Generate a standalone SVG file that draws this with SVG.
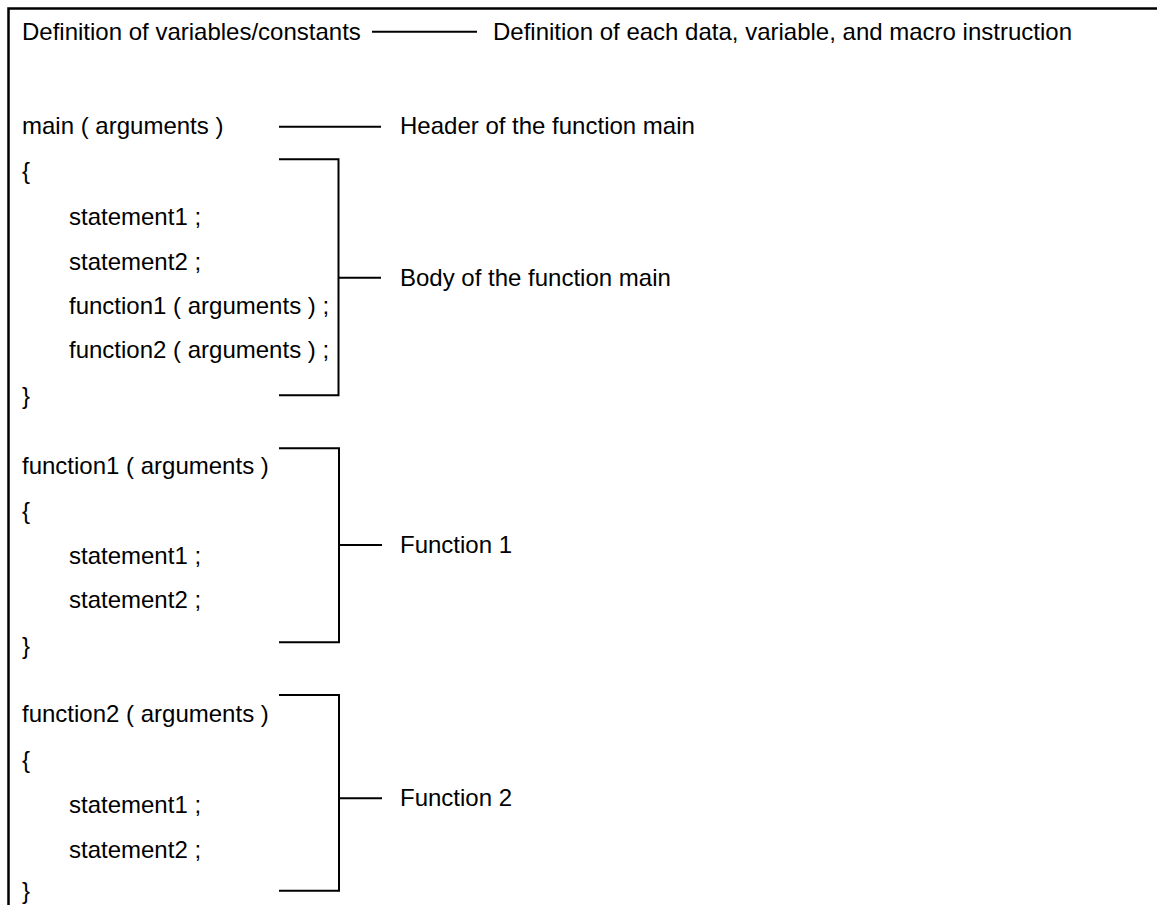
<svg xmlns="http://www.w3.org/2000/svg" width="1157" height="905" viewBox="0 0 1157 905">
<style>
text{font-family:"Liberation Sans",Arial,sans-serif;font-size:24px;fill:#000}
.ln{stroke:#000;stroke-width:2;fill:none}
.fr{stroke:#000;stroke-width:2.5;fill:none}
</style>
<rect width="1157" height="905" fill="#fff"/>
<g id="frame"><path class="fr" d="M1157 8.5H8.5V905"/></g>
<g id="defs-node">
<text x="22" y="40">Definition of variables/constants</text>
<text x="493" y="40">Definition of each data, variable, and macro instruction</text>
</g>
<g id="main-node">
<text x="22" y="134">main ( arguments )</text>
<text x="400" y="134">Header of the function main</text>
<text x="22" y="179">{</text>
<text x="69" y="225">statement1 ;</text>
<text x="69" y="269.5">statement2 ;</text>
<text x="69" y="313.5">function1 ( arguments ) ;</text>
<text x="69" y="358">function2 ( arguments ) ;</text>
<text x="22" y="403.5">}</text>
<text x="400" y="285.5">Body of the function main</text>
</g>
<g id="function1-node">
<text x="22" y="473.5">function1 ( arguments )</text>
<text x="22" y="518.5">{</text>
<text x="69" y="563.5">statement1 ;</text>
<text x="69" y="608">statement2 ;</text>
<text x="22" y="653.5">}</text>
<text x="400" y="553">Function 1</text>
</g>
<g id="function2-node">
<text x="22" y="722">function2 ( arguments )</text>
<text x="22" y="767.5">{</text>
<text x="69" y="812.5">statement1 ;</text>
<text x="69" y="857.5">statement2 ;</text>
<text x="22" y="899">}</text>
<text x="400" y="806">Function 2</text>
</g>
<g id="connectors">
<path class="ln" d="M372 31.7H477"/>
<path class="ln" d="M279 126.7H381"/>
<path class="ln" d="M279 159.3H338.5V395.3H279M338.5 277.7H381"/>
<path class="ln" d="M279 448.3H339V642.3H279M339 545H382"/>
<path class="ln" d="M279 695H339V890.7H279M339 798.3H382"/>
</g>
</svg>
